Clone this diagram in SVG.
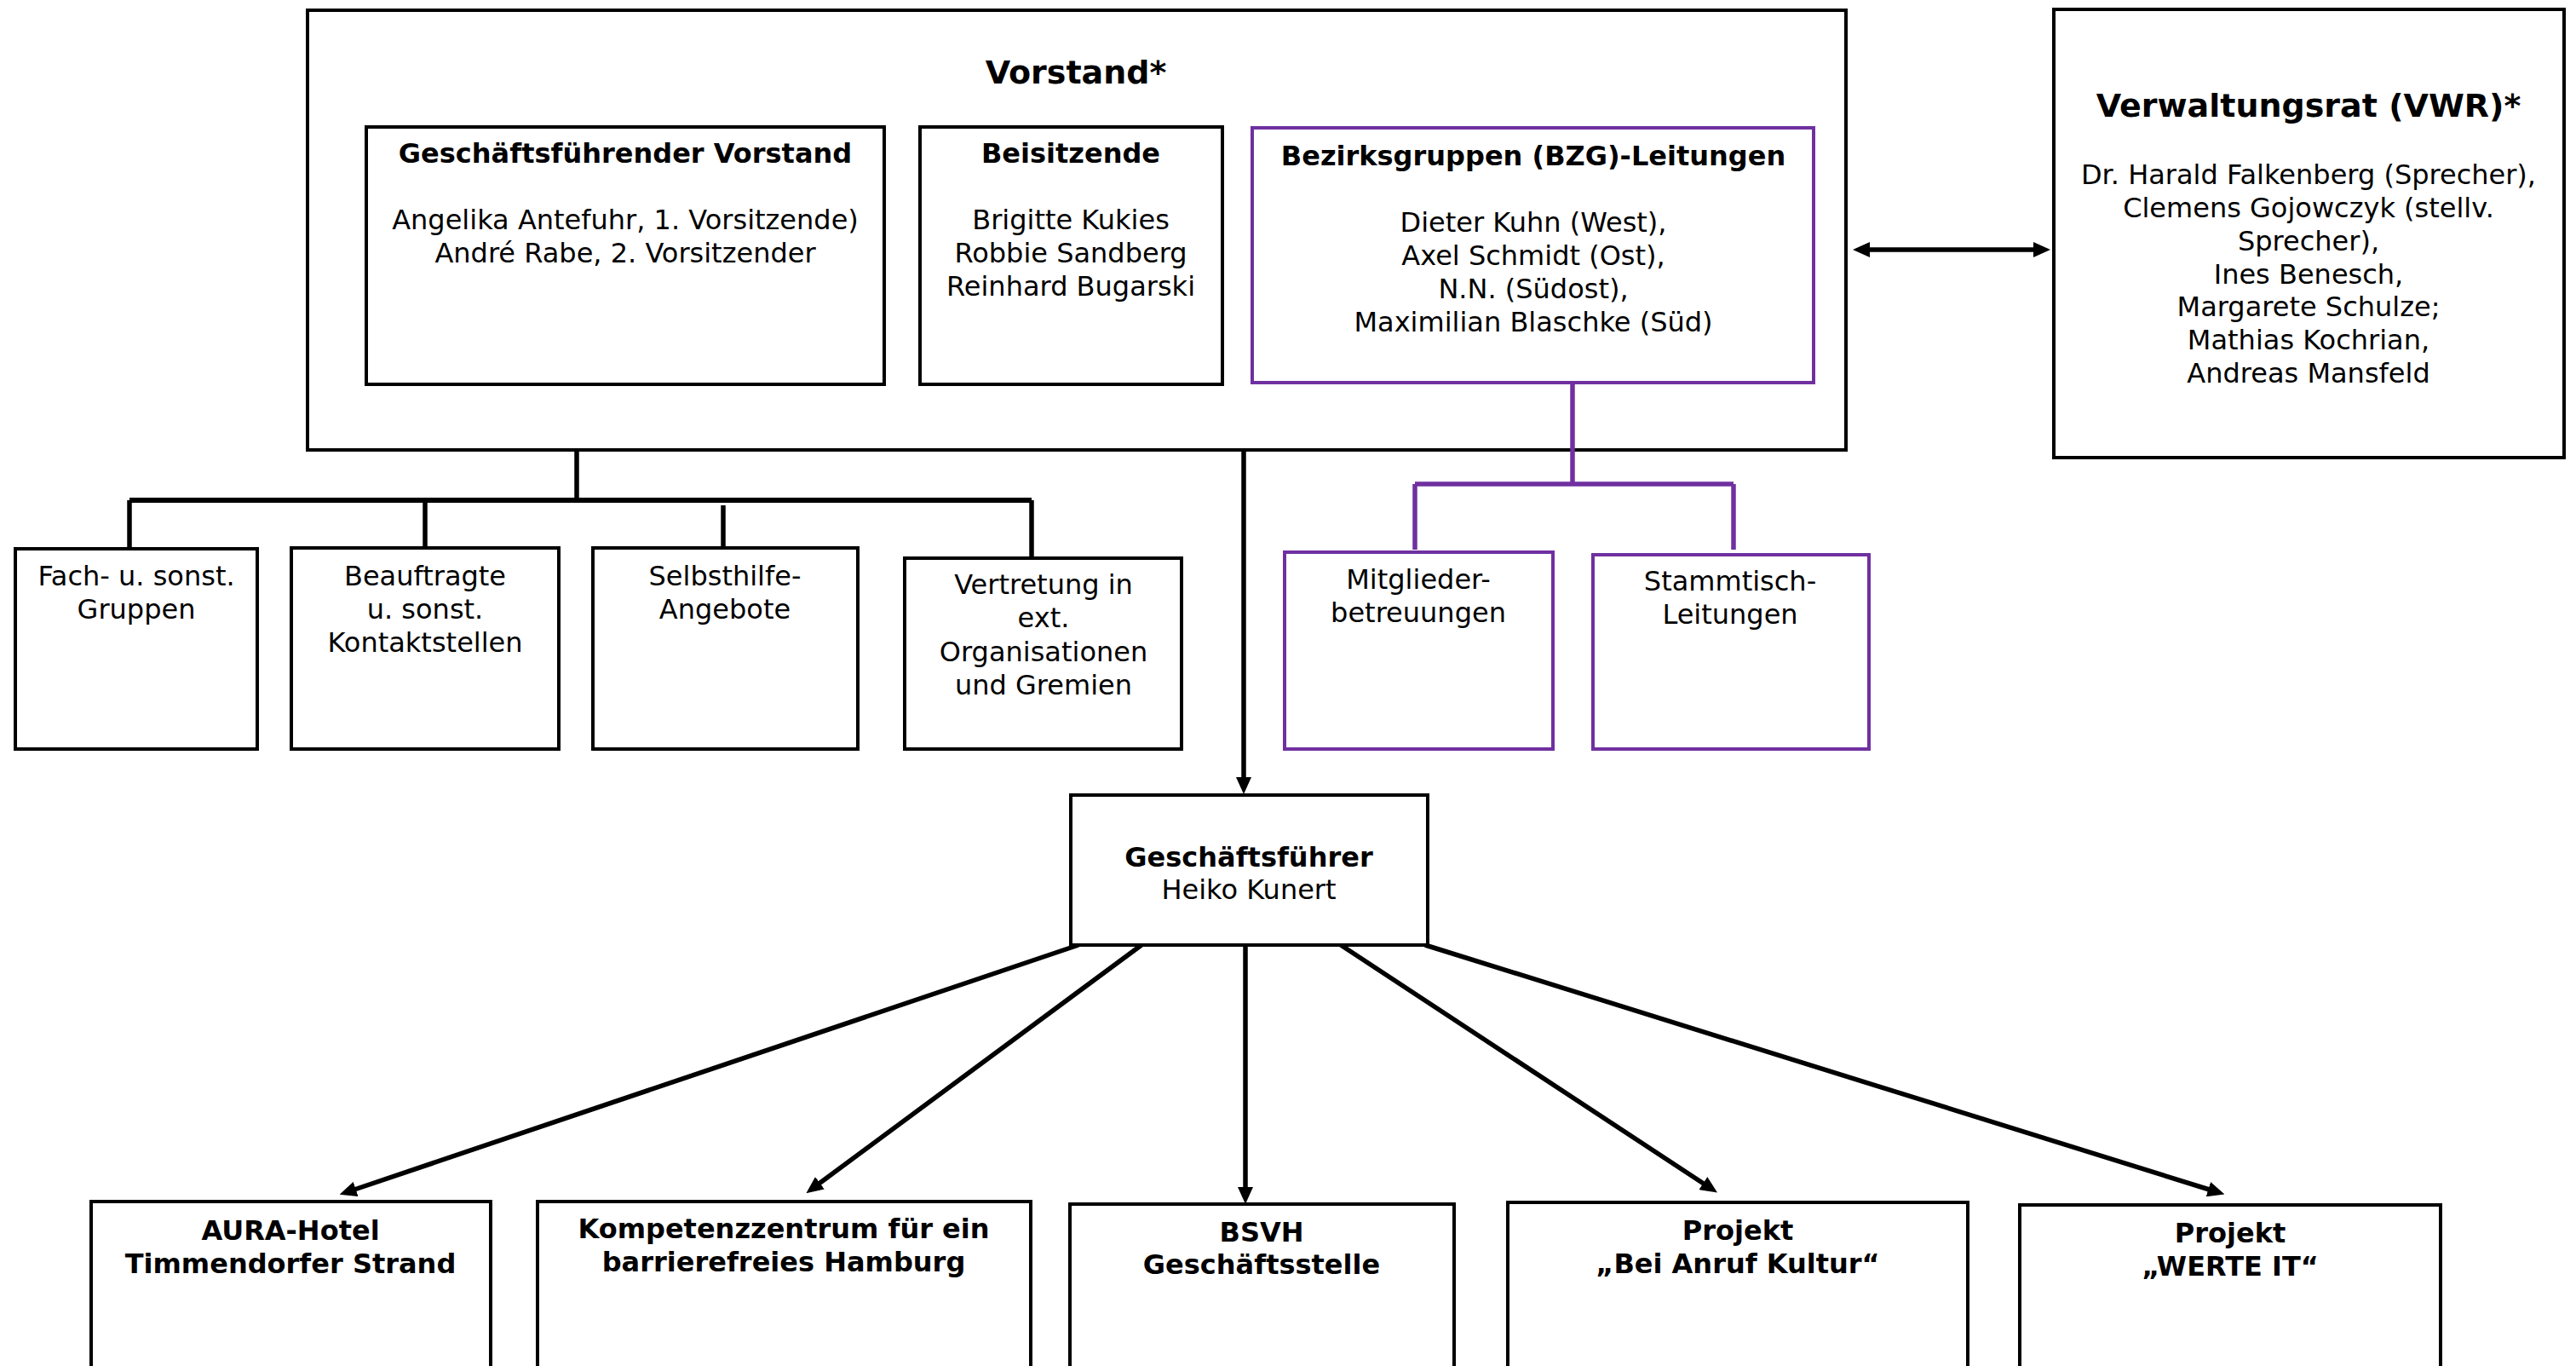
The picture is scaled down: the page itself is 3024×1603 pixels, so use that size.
<svg xmlns="http://www.w3.org/2000/svg" width="3024" height="1603" viewBox="0 0 3024 1603">
<style>
  text { font-family: "DejaVu Sans", Verdana, sans-serif; font-size: 32px; fill: #000; text-anchor: middle; }
  .b { font-weight: bold; }
  .t { font-weight: bold; font-size: 38px; }
  .box { fill: #fff; stroke: #000; stroke-width: 4; }
  .pbox { fill: #fff; stroke: #7030A0; stroke-width: 4; }
  .ln { fill: none; stroke: #000; stroke-width: 5.5; }
  .pl { fill: none; stroke: #7030A0; stroke-width: 5.5; }
</style>
<defs>
  <marker id="ah" markerUnits="userSpaceOnUse" viewBox="0 0 20 18" markerWidth="20" markerHeight="18" refX="8" refY="9" orient="auto-start-reverse">
    <path d="M0,0 L20,9 L0,18 z" fill="#000"/>
  </marker>
</defs>
<rect width="3024" height="1603" fill="#fff"/>

<g id="vorstand">
  <rect class="box" x="361" y="12" width="1806" height="516"/>
  <text class="t" x="1263" y="98">Vorstand*</text>
</g>
<g id="gf-vorstand">
  <rect class="box" x="430" y="149" width="608" height="302"/>
  <text class="b" x="734" y="191">Geschäftsführender Vorstand</text>
  <text x="734" y="269">Angelika Antefuhr, 1. Vorsitzende)</text>
  <text x="734" y="308">André Rabe, 2. Vorsitzender</text>
</g>
<g id="beisitzende">
  <rect class="box" x="1080" y="149" width="355" height="302"/>
  <text class="b" x="1257" y="191">Beisitzende</text>
  <text x="1257" y="269">Brigitte Kukies</text>
  <text x="1257" y="308">Robbie Sandberg</text>
  <text x="1257" y="347">Reinhard Bugarski</text>
</g>
<g id="bezirksgruppen">
  <rect class="pbox" x="1470" y="150" width="659" height="299"/>
  <text class="b" x="1800" y="194">Bezirksgruppen (BZG)-Leitungen</text>
  <text x="1800" y="272">Dieter Kuhn (West),</text>
  <text x="1800" y="311">Axel Schmidt (Ost),</text>
  <text x="1800" y="350">N.N. (Südost),</text>
  <text x="1800" y="389">Maximilian Blaschke (Süd)</text>
</g>
<g id="verwaltungsrat">
  <rect class="box" x="2411" y="11" width="599" height="526"/>
  <text class="t" x="2710" y="137">Verwaltungsrat (VWR)*</text>
  <text x="2710" y="216">Dr. Harald Falkenberg (Sprecher),</text>
  <text x="2710" y="255">Clemens Gojowczyk (stellv.</text>
  <text x="2710" y="294">Sprecher),</text>
  <text x="2710" y="333">Ines Benesch,</text>
  <text x="2710" y="371">Margarete Schulze;</text>
  <text x="2710" y="410">Mathias Kochrian,</text>
  <text x="2710" y="449">Andreas Mansfeld</text>
</g>

<g id="connectors">
  <line class="ln" x1="677" y1="528" x2="677" y2="587"/>
  <line class="ln" x1="152" y1="587" x2="1211" y2="587" style="stroke-width:6"/>
  <line class="ln" x1="152" y1="587" x2="152" y2="644"/>
  <line class="ln" x1="499" y1="587" x2="499" y2="643"/>
  <line class="ln" x1="849" y1="593" x2="849" y2="643"/>
  <line class="ln" x1="1211" y1="587" x2="1211" y2="655"/>
  <line class="pl" x1="1846" y1="449" x2="1846" y2="568"/>
  <line class="pl" x1="1661" y1="568" x2="2035" y2="568"/>
  <line class="pl" x1="1661" y1="568" x2="1661" y2="645"/>
  <line class="pl" x1="2035" y1="568" x2="2035" y2="645"/>
  <line class="ln" x1="2187" y1="293" x2="2395" y2="293" marker-start="url(#ah)" marker-end="url(#ah)"/>
  <line class="ln" x1="1460" y1="528" x2="1460" y2="920" marker-end="url(#ah)"/>
  <line class="ln" x1="1266" y1="1109" x2="410" y2="1398" marker-end="url(#ah)"/>
  <line class="ln" x1="1340" y1="1109" x2="956" y2="1393" marker-end="url(#ah)"/>
  <line class="ln" x1="1462" y1="1109" x2="1462" y2="1401" marker-end="url(#ah)"/>
  <line class="ln" x1="1574" y1="1109" x2="2006" y2="1393" marker-end="url(#ah)"/>
  <line class="ln" x1="1673" y1="1109" x2="2600" y2="1398" marker-end="url(#ah)"/>
</g>

<g id="fach">
  <rect class="box" x="18" y="644" width="284" height="235"/>
  <text x="160" y="687">Fach- u. sonst.</text>
  <text x="160" y="726">Gruppen</text>
</g>
<g id="beauftragte">
  <rect class="box" x="342" y="643" width="314" height="236"/>
  <text x="499" y="687">Beauftragte</text>
  <text x="499" y="726">u. sonst.</text>
  <text x="499" y="765">Kontaktstellen</text>
</g>
<g id="selbsthilfe">
  <rect class="box" x="696" y="643" width="311" height="236"/>
  <text x="851" y="687">Selbsthilfe-</text>
  <text x="851" y="726">Angebote</text>
</g>
<g id="vertretung">
  <rect class="box" x="1062" y="655" width="325" height="224"/>
  <text x="1225" y="697">Vertretung in</text>
  <text x="1225" y="736">ext.</text>
  <text x="1225" y="776">Organisationen</text>
  <text x="1225" y="815">und Gremien</text>
</g>
<g id="mitglieder">
  <rect class="pbox" x="1508" y="648" width="315" height="231"/>
  <text x="1665" y="691">Mitglieder-</text>
  <text x="1665" y="730">betreuungen</text>
</g>
<g id="stammtisch">
  <rect class="pbox" x="1870" y="651" width="324" height="228"/>
  <text x="2031" y="693">Stammtisch-</text>
  <text x="2031" y="732">Leitungen</text>
</g>
<g id="geschaeftsfuehrer">
  <rect class="box" x="1257" y="933" width="419" height="176"/>
  <text class="b" x="1466" y="1017">Geschäftsführer</text>
  <text x="1466" y="1055">Heiko Kunert</text>
</g>
<g id="aura">
  <rect class="box" x="107" y="1410" width="469" height="220"/>
  <text class="b" x="341" y="1455">AURA-Hotel</text>
  <text class="b" x="341" y="1494">Timmendorfer Strand</text>
</g>
<g id="kompetenz">
  <rect class="box" x="631" y="1410" width="579" height="220"/>
  <text class="b" x="920" y="1453">Kompetenzzentrum für ein</text>
  <text class="b" x="920" y="1492">barrierefreies Hamburg</text>
</g>
<g id="bsvh">
  <rect class="box" x="1256" y="1413" width="451" height="220"/>
  <text class="b" x="1481" y="1457">BSVH</text>
  <text class="b" x="1481" y="1495">Geschäftsstelle</text>
</g>
<g id="kultur">
  <rect class="box" x="1770" y="1411" width="540" height="220"/>
  <text class="b" x="2040" y="1455">Projekt</text>
  <text class="b" x="2040" y="1494">„Bei Anruf Kultur“</text>
</g>
<g id="werte">
  <rect class="box" x="2371" y="1414" width="494" height="220"/>
  <text class="b" x="2618" y="1458">Projekt</text>
  <text class="b" x="2618" y="1497">„WERTE IT“</text>
</g>
</svg>
